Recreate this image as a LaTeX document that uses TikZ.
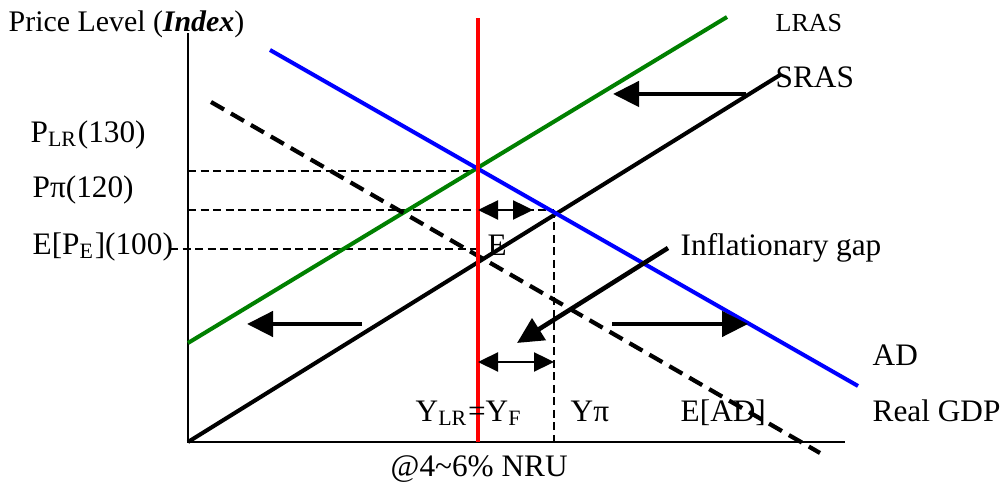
\documentclass[tikz,border=0pt]{standalone}
\usepackage{fontspec}
\setmainfont{Liberation Serif}
\usepackage{tikz}
\usetikzlibrary{arrows.meta, positioning}
\definecolor{lrasgreen}{RGB}{0,128,0}

\begin{document}
\begin{tikzpicture}[
    every node/.style={inner sep=0pt, anchor=base west, font=\fontsize{8.9}{10}\selectfont},
    axis/.style={line width=0.65pt},
    curve/.style={line width=1.15pt},
    guide/.style={line width=0.45pt, dash pattern=on 0.08cm off 0.045cm},
    shiftarrow/.style={-{Triangle[length=0.26cm, width=0.25cm]}, line width=1.3pt},
    gaparrow/.style={{Triangle[length=0.2cm, width=0.19cm]}-{Triangle[length=0.2cm, width=0.19cm]}, line width=0.65pt}
  ]
  \useasboundingbox (0,0) rectangle (10.03,4.83);

  % Axes
  \coordinate (O) at (1.88,0.41);
  \coordinate (ytop) at (1.88,4.50);
  \coordinate (xend) at (8.45,0.41);
  \draw[axis] (ytop) -- (O) -- (xend);

  % Curve end points
  \coordinate (yf) at (4.78,0.41);
  \coordinate (yftop) at (4.78,4.65);
  \coordinate (lras1) at (1.88,1.40);
  \coordinate (lras2) at (7.27,4.66);
  \coordinate (ad1) at (2.70,4.33);
  \coordinate (ad2) at (8.58,0.97);
  \coordinate (sras2) at (7.80,4.08);
  \coordinate (ead1) at (2.11,3.81);
  \coordinate (ead2) at (8.20,0.30);

  % Price levels and output gap guides
  \coordinate (plr0) at (1.88,3.12);
  \coordinate (plr) at (4.78,3.12);
  \coordinate (ppi0) at (1.88,2.73);
  \coordinate (ppi) at (5.54,2.73);
  \coordinate (pe0) at (1.70,2.34);
  \coordinate (pe) at (4.78,2.34);
  \coordinate (ypi) at (5.54,0.41);
  \draw[guide] (plr0) -- (plr);
  \draw[guide] (ppi0) -- (ppi);
  \draw[guide] (pe0) -- (pe);
  \draw[guide] (ppi) -- (ypi);

  % Curves
  \draw[curve, lrasgreen] (lras1) -- (lras2);
  \draw[curve, black] (O) -- (sras2);
  \draw[curve, line width=1.2pt, dash pattern=on 0.15cm off 0.08cm] (ead1) -- (ead2);
  \draw[curve, blue] (ad1) -- (ad2);
  \draw[curve, red] (yf) -- (yftop);

  % Gap arrows
  \coordinate (ga1) at (4.78,2.73);
  \coordinate (ga2) at (5.33,2.73);
  \coordinate (gb1) at (4.78,1.21);
  \coordinate (gb2) at (5.54,1.21);
  \draw[gaparrow] (ga1) -- (ga2);
  \draw[gaparrow] (gb1) -- (gb2);

  % Shift arrows
  \coordinate (sa1) at (7.46,3.89);
  \coordinate (sa2) at (6.13,3.89);
  \coordinate (sb1) at (3.62,1.59);
  \coordinate (sb2) at (2.47,1.59);
  \coordinate (sc1) at (6.12,1.59);
  \coordinate (sc2) at (7.48,1.59);
  \coordinate (sd1) at (6.68,2.35);
  \coordinate (sd2) at (5.17,1.40);
  \draw[shiftarrow] (sa1) -- (sa2);
  \draw[shiftarrow] (sb1) -- (sb2);
  \draw[shiftarrow] (sc1) -- (sc2);
  \draw[shiftarrow] (sd1) -- (sd2);

  % Labels
  \node[font=\fontsize{8.5}{10}\selectfont] (price) at (0.08,4.51) {Price Level (\textbf{\textit{Index}})};
  \node (plrlbl) at (0.30,3.40) {P\textsubscript{LR}(130)};
  \node (ppilbl) at (0.32,2.85) {Pπ(120)};
  \node (pelbl) at (0.32,2.28) {E[P\textsubscript{E}](100)};
  \node[font=\fontsize{7.4}{9}\selectfont] (lraslbl) at (7.75,4.51) {LRAS};
  \node (sraslbl) at (7.75,3.95) {SRAS};
  \node (elbl) at (4.87,2.27) {E};
  \node (gaplbl) at (6.80,2.27) {Inflationary gap};
  \node (adlbl) at (8.72,1.17) {AD};
  \node (gdplbl) at (8.72,0.61) {Real GDP};
  \node (yflbl) at (4.15,0.61) {Y\textsubscript{LR}=Y\textsubscript{F}};
  \node (ypilbl) at (5.70,0.61) {Yπ};
  \node (eadlbl) at (6.80,0.61) {E[AD]};
  \node (nrulbl) at (3.90,0.06) {@4\textasciitilde6\% NRU};
\end{tikzpicture}
\end{document}
